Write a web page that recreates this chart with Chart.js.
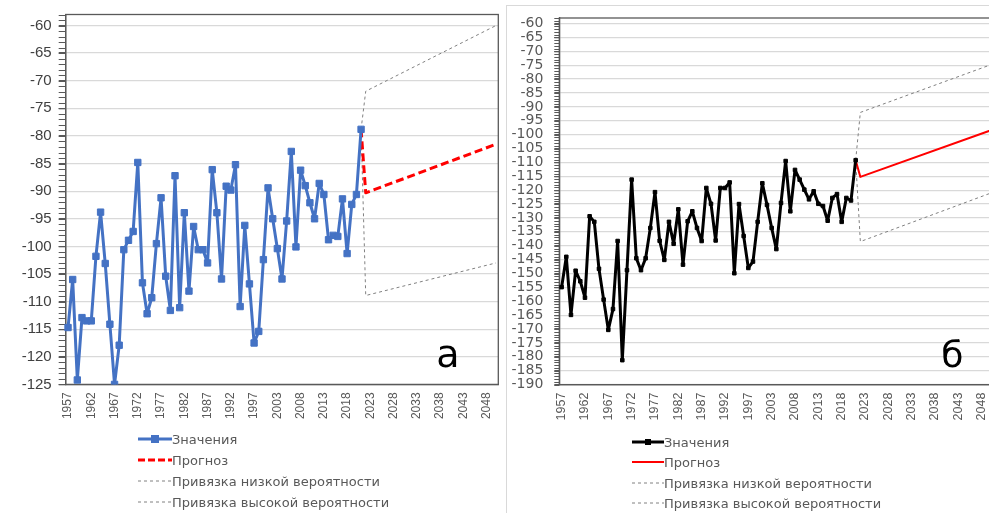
<!DOCTYPE html>
<html>
<head>
<meta charset="utf-8">
<script src="https://cdn.jsdelivr.net/npm/chart.js@4.4.1/dist/chart.umd.min.js"></script>
<style>
  html, body { margin:0; padding:0; background:#fff; width:989px; height:513px; overflow:hidden; position:relative; }
  canvas { position:absolute; top:0; }
  #cA { left:0; }
  #cB { left:505px; }
  #frameB { position:absolute; left:506px; top:5px; width:600px; height:600px; border-left:1px solid #D9D9D9; border-top:1px solid #D9D9D9; }
  .lg { position:absolute; height:16px; display:flex; align-items:center; font-family:"DejaVu Sans", sans-serif; font-size:13px; color:#595959; white-space:nowrap; }
  .lg svg { flex:none; }
</style>
</head>
<body>
<div id="frameB"></div>
<canvas id="cA" width="510" height="440"></canvas>
<canvas id="cB" width="500" height="440"></canvas>

<div class="lg" style="left:138px; top:431px;"><svg width="34" height="12"><line x1="0" y1="6" x2="34" y2="6" stroke="#4472C4" stroke-width="3"/><rect x="13" y="2" width="8" height="8" fill="#4472C4"/></svg><span>Значения</span></div>
<div class="lg" style="left:138px; top:452px;"><svg width="34" height="12"><line x1="0" y1="6" x2="34" y2="6" stroke="#FF0000" stroke-width="3" stroke-dasharray="7 3"/></svg><span>Прогноз</span></div>
<div class="lg" style="left:138px; top:473px;"><svg width="34" height="12"><line x1="0" y1="6" x2="34" y2="6" stroke="#808080" stroke-width="1" stroke-dasharray="3 3"/></svg><span>Привязка низкой вероятности</span></div>
<div class="lg" style="left:138px; top:494px;"><svg width="34" height="12"><line x1="0" y1="6" x2="34" y2="6" stroke="#808080" stroke-width="1" stroke-dasharray="3 3"/></svg><span>Привязка высокой вероятности</span></div>

<div class="lg" style="left:632px; top:434px;"><svg width="32" height="12"><line x1="0" y1="6" x2="32" y2="6" stroke="#000" stroke-width="3"/><rect x="13" y="3" width="6" height="6" fill="#000"/></svg><span>Значения</span></div>
<div class="lg" style="left:632px; top:454px;"><svg width="32" height="12"><line x1="0" y1="6" x2="32" y2="6" stroke="#FF0000" stroke-width="2"/></svg><span>Прогноз</span></div>
<div class="lg" style="left:632px; top:475px;"><svg width="32" height="12"><line x1="0" y1="6" x2="32" y2="6" stroke="#808080" stroke-width="1" stroke-dasharray="3 3"/></svg><span>Привязка низкой вероятности</span></div>
<div class="lg" style="left:632px; top:495px;"><svg width="32" height="12"><line x1="0" y1="6" x2="32" y2="6" stroke="#808080" stroke-width="1" stroke-dasharray="3 3"/></svg><span>Привязка высокой вероятности</span></div>

<script>
// ---------- categories (years; Excel category axis, 2000 absent) ----------
const years = ['1957','1958','1959','1960','1961','1962','1963','1964','1965','1966',
  '1967','1968','1969','1970','1971','1972','1973','1974','1975','1976',
  '1977','1978','1979','1980','1981','1982','1983','1984','1985','1986',
  '1987','1988','1989','1990','1991','1992','1993','1994','1995','1996',
  '1997','1998','1999','2001','2002','2003','2004','2005','2006','2007',
  '2008','2009','2010','2011','2012','2013','2014','2015','2016','2017',
  '2018','2019','2020','2021','2022','2023','2024','2025','2026','2027',
  '2028','2029','2030','2031','2032','2033','2034','2035','2036','2037',
  '2038','2039','2040','2041','2042','2043','2044','2045','2046','2047',
  '2048','2049','2050'];

// ---------- chart "а" ----------
const valuesA = [-114.7,-106.0,-124.2,-112.9,-113.5,-113.5,-101.8,-93.8,-103.1,-114.1,
  -125.0,-117.9,-100.6,-98.9,-97.3,-84.8,-106.6,-112.2,-109.3,-99.5,
  -91.2,-105.4,-111.6,-87.2,-111.1,-93.9,-108.1,-96.4,-100.6,-100.6,
  -103.0,-86.1,-93.9,-105.9,-89.1,-89.8,-85.2,-110.9,-96.2,-106.8,
  -117.5,-115.4,-102.4,-89.4,-95.0,-100.4,-105.9,-95.4,-82.8,-100.1,
  -86.2,-89.0,-92.1,-95.0,-88.6,-90.6,-98.8,-98.0,-98.2,-91.4,
  -101.3,-92.4,-90.6,-78.8];
const forecastYears = ['2022','2050'];
const forecastA = [-90.3,-81.5];
const lowA = [-108.9,-103.0];
const highA = [-71.9,-60.0];
const yTicksA = {min:-125, max:-58, step:5};

// ---------- chart "б" ----------
const valuesB = [-154.9,-144.0,-164.9,-149.0,-152.8,-158.7,-129.4,-131.4,-148.3,-159.4,
  -170.3,-162.8,-138.3,-181.2,-148.8,-116.2,-144.5,-148.8,-144.5,-133.6,
  -120.7,-138.2,-145.1,-131.4,-139.3,-126.9,-146.8,-131.2,-127.6,-133.6,
  -138.3,-119.2,-124.9,-138.1,-119.2,-119.2,-117.2,-149.9,-125.0,-136.5,
  -148.0,-145.7,-131.4,-117.5,-125.3,-133.6,-141.2,-124.6,-109.5,-127.6,
  -112.7,-116.2,-119.8,-123.3,-120.4,-124.9,-125.7,-131.0,-122.8,-121.4,
  -131.4,-122.8,-123.7,-109.2];
const forecastB = [-115.2,-98.4];
const lowB = [-138.5,-121.0];
const highB = [-92.0,-74.8];
const yTicksB = {min:-190, max:-58, step:5};

// build anchored line (starts from last observed value)
function anchored(values, ys) {
  const lastIdx = values.length - 1;
  const pts = [{x: years[lastIdx], y: values[lastIdx]}];
  forecastYears.forEach((yr, i) => pts.push({x: yr, y: ys[i]}));
  return pts;
}

const framePlugin = {
  id: 'frame',
  beforeDatasetsDraw(chart, args, o) {
    const {ctx, chartArea: a} = chart;
    const y = chart.scales.y;
    ctx.save();
    ctx.strokeStyle = o.tickColor; ctx.lineWidth = 1;
    ctx.beginPath();
    for (let v = Math.ceil(y.min); v <= y.max; v++) {
      const py = Math.round(y.getPixelForValue(v)) + 0.5;
      ctx.moveTo(a.left - o.tickLen, py); ctx.lineTo(a.left, py);
    }
    ctx.stroke();
    ctx.strokeStyle = o.frameColor; ctx.lineWidth = o.frameWidth;
    ctx.strokeRect(a.left, a.top, a.right - a.left, a.bottom - a.top);
    ctx.font = o.letterFont; ctx.fillStyle = '#000';
    ctx.textAlign = 'left'; ctx.textBaseline = 'alphabetic';
    ctx.fillText(o.letter, a.right - o.letterDx, a.bottom - o.letterDy);
    ctx.restore();
  }
};

function makeChart(id, cfg) {
  return new Chart(document.getElementById(id), {
    type: 'line',
    data: {
      labels: years,
      datasets: [
        { label: 'Значения', data: cfg.values, borderColor: cfg.color, backgroundColor: cfg.color,
          borderWidth: cfg.lineW, borderJoinStyle: 'round', borderCapStyle: 'round',
          pointStyle: 'rect', pointRadius: cfg.pointR, pointBorderWidth: 1,
          pointBackgroundColor: cfg.color, pointBorderColor: cfg.color, tension: 0 },
        { label: 'Прогноз', data: anchored(cfg.values, cfg.forecast), borderColor: '#FF0000',
          borderWidth: cfg.redW, borderDash: cfg.redDash, borderJoinStyle: 'round', pointRadius: 0, tension: 0 },
        { label: 'Привязка низкой вероятности', data: anchored(cfg.values, cfg.low), borderColor: '#808080',
          borderWidth: 1, borderDash: [3, 3], pointRadius: 0, tension: 0 },
        { label: 'Привязка высокой вероятности', data: anchored(cfg.values, cfg.high), borderColor: '#808080',
          borderWidth: 1, borderDash: [3, 3], pointRadius: 0, tension: 0 }
      ]
    },
    options: {
      responsive: false, animation: false,
      layout: { padding: cfg.padding },
      plugins: {
        legend: { display: false }, tooltip: { enabled: false },
        frame: cfg.frame
      },
      scales: {
        x: {
          type: 'category', offset: true,
          grid: { display: false, drawTicks: false },
          border: { display: true, color: '#595959', width: 1.3 },
          ticks: {
            autoSkip: false, minRotation: 90, maxRotation: 90, padding: 8,
            color: '#595959', font: { family: 'Liberation Sans', size: cfg.xFont },
            callback: (v, i) => (i % 5 === 0 ? years[i] : null)
          },
          afterFit: s => { s.height = cfg.xH; }
        },
        y: {
          min: cfg.yt.min, max: cfg.yt.max,
          grid: { color: '#D9D9D9', lineWidth: 1.3, tickColor: '#595959', tickLength: cfg.frame.tickLen, drawTicks: true },
          border: { display: true, color: '#595959', width: 1.3 },
          ticks: { stepSize: cfg.yt.step, includeBounds: false, autoSkip: false, padding: cfg.yPad, color: cfg.yColor,
                   font: { family: cfg.yFamily, size: cfg.yFont, lineHeight: 1 } },
          afterFit: s => { s.width = cfg.yW; }
        }
      }
    },
    plugins: [framePlugin]
  });
}

makeChart('cA', {
  values: valuesA, forecast: forecastA, low: lowA, high: highA, yt: yTicksA,
  color: '#4472C4', lineW: 3, pointR: 4.5, redW: 3, redDash: [8, 4],
  padding: { left: 0, top: 13, right: 11.7, bottom: 0 },
  xH: 55.6, yW: 65.7, xFont: 12, yFont: 15, yFamily: 'Liberation Sans', yColor: '#404040', yPad: 7,
  frame: { tickColor: '#595959', tickLen: 7, frameColor: '#595959', frameWidth: 1.3,
           letter: 'а', letterFont: '38px "DejaVu Sans"', letterDx: 62, letterDy: 17 }
});

makeChart('cB', {
  values: valuesB, forecast: forecastB, low: lowB, high: highB, yt: yTicksB,
  color: '#000000', lineW: 3, pointR: 2.5, redW: 2, redDash: [],
  padding: { left: 0, top: 14, right: 11.4, bottom: 0 },
  xH: 55.4, yW: 54.3, xFont: 12.5, yFont: 14, yFamily: 'DejaVu Sans', yColor: '#595959', yPad: 11,
  frame: { tickColor: '#595959', tickLen: 5, frameColor: '#595959', frameWidth: 1.3,
           letter: 'б', letterFont: '36px "DejaVu Sans"', letterDx: 52, letterDy: 18 }
});
</script>
</body>
</html>
